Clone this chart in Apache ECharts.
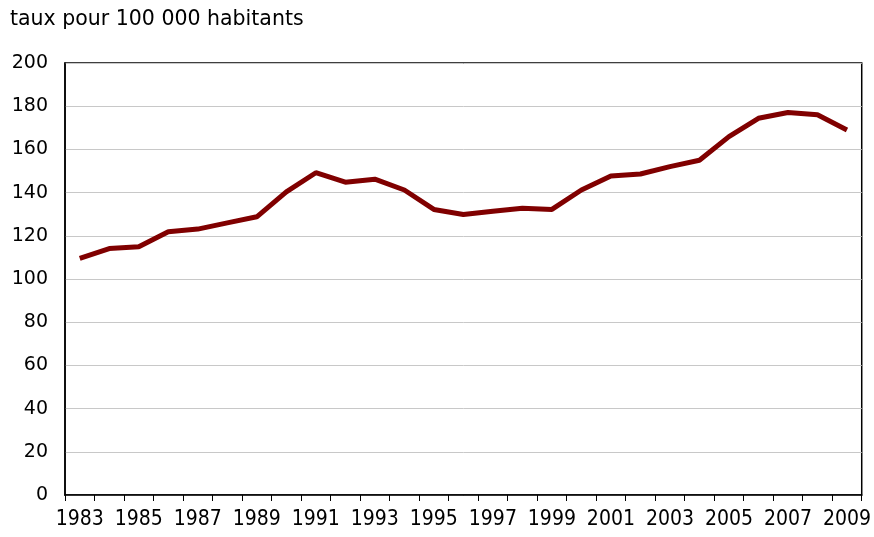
<!DOCTYPE html>
<html><head><meta charset="utf-8">
<script src="https://cdn.jsdelivr.net/npm/echarts@6/dist/echarts.min.js"></script>
<style>html,body{margin:0;padding:0;background:#fff}#c{width:874px;height:537px}</style>
</head><body><div id="c"></div>
<script>
const years = ['1983','1984','1985','1986','1987','1988','1989','1990','1991','1992','1993','1994','1995','1996','1997','1998','1999','2000','2001','2002','2003','2004','2005','2006','2007','2008','2009'];
const rates = [109.6,114.1,114.9,121.9,123.1,126,128.8,140.3,149.2,144.8,146.2,141.2,132.2,129.9,131.4,132.8,132.2,141.2,147.7,148.6,152,155,165.9,174.4,177.1,176,169];
const yTitle = 'taux pour 100 000 habitants';
const FONT = '"DejaVu Sans", Verdana, sans-serif';
const FONT_C = '"DejaVu Sans Condensed", "DejaVu Sans", sans-serif';
const chart = echarts.init(document.getElementById('c'), null, {renderer:'canvas'});
chart.setOption({
  animation:false,
  title:{text:yTitle,left:5,top:4,textStyle:{fontFamily:FONT,fontSize:20.5,fontWeight:'normal',color:'#000'}},
  grid:{left:65,right:12,top:63,bottom:42,show:true,borderColor:'#000',borderWidth:1.5},
  xAxis:{type:'category',data:years,boundaryGap:true,
    axisLine:{lineStyle:{color:'#000',width:1.5}},
    axisTick:{show:true,interval:0,length:6,lineStyle:{color:'#000'}},
    axisLabel:{interval:1,margin:14,fontFamily:FONT_C,fontSize:21,color:'#000'},
    splitLine:{show:false}},
  yAxis:{type:'value',min:0,max:200,interval:20,
    axisLine:{show:true,lineStyle:{color:'#000',width:1.5}},
    axisTick:{show:false},
    axisLabel:{margin:17,fontFamily:FONT,fontSize:19,color:'#000'},
    splitLine:{lineStyle:{color:'#c8c8c8',width:1}}},
  series:[{type:'line',data:rates,symbol:'none',lineStyle:{color:'#800000',width:5},itemStyle:{color:'#800000'}}]
});
</script></body></html>
